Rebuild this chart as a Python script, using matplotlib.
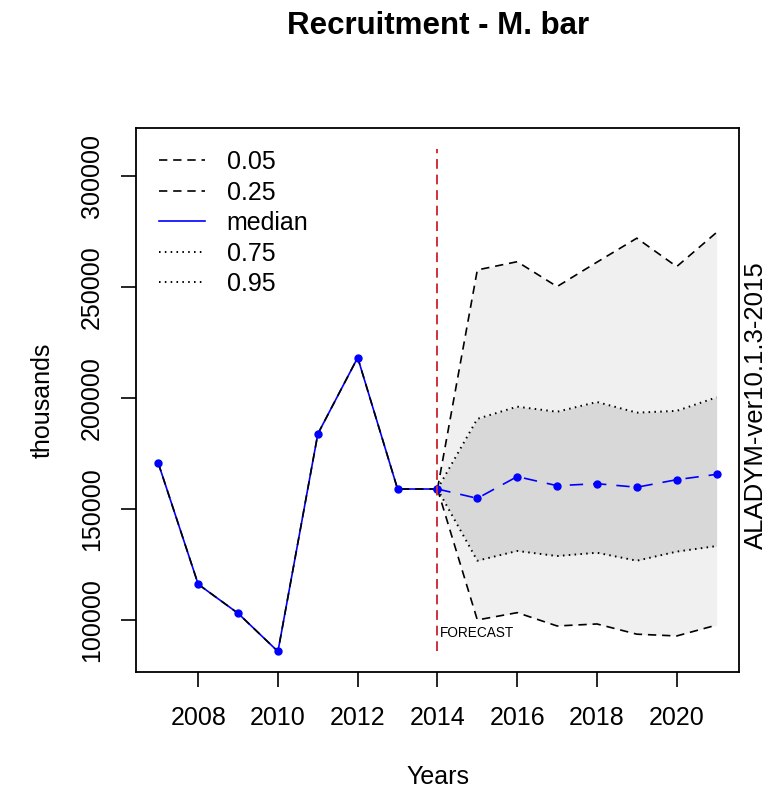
import matplotlib
matplotlib.use("Agg")
import matplotlib.pyplot as plt
import numpy as np

plt.rcParams['font.family'] = ['Liberation Sans', 'DejaVu Sans']

# Recruitment estimates (thousands) and projected quantiles
years = [2007, 2008, 2009, 2010, 2011, 2012, 2013, 2014,
         2015, 2016, 2017, 2018, 2019, 2020, 2021]
history_years = years[:8]
forecast_years = years[7:]

history = [170600, 116100, 103000, 85800, 183800, 218200, 159000, 159000]

q05 = [159000, 257700, 261400, 250200, 261200, 272000, 259200, 274600]
q25 = [159000, 100000, 103300, 97300, 98200, 93600, 92800, 97700]
median = [159000, 154800, 164600, 160500, 161400, 159800, 163200, 165600]
q75 = [159000, 190600, 196100, 193800, 198200, 193400, 194200, 200300]
q95 = [159000, 126700, 131100, 128800, 130300, 126700, 130800, 133300]

quantile_labels = ["0.05", "0.25", "median", "0.75", "0.95"]
xticks = [2008, 2010, 2012, 2014, 2016, 2018, 2020]
yticks = [100000, 150000, 200000, 250000, 300000]
forecast_start = 2014

fig = plt.figure(figsize=(7.67, 7.92), dpi=100)
ax = fig.add_axes([0.1773, 0.1519, 0.9639 - 0.1773, 0.838 - 0.1519])

ylo, yhi = 76700, 321500
ax.set_xlim(2006.44, 2021.57)
ax.set_ylim(ylo, yhi)

# uncertainty envelopes
ax.fill_between(forecast_years, q25, q05, color="#f0f0f0", lw=0, zorder=1)
ax.fill_between(forecast_years, q95, q75, color="#d8d8d8", lw=0, zorder=2)

dash = (0, (5, 3.5))
dot = (0, (0.8, 2.2))
hist_black = dict(color="black", lw=1.2, zorder=3)
ax.plot(history_years, history, color="blue", lw=1.2, zorder=3)
ax.plot(history_years, history, linestyle=dash, **hist_black)

l05, = ax.plot(forecast_years, q05, linestyle=dash, color="black", lw=1.2, zorder=3)
l25, = ax.plot(forecast_years, q25, linestyle=dash, color="black", lw=1.2, zorder=3)
l75, = ax.plot(forecast_years, q75, linestyle=dot, color="black", lw=1.4, zorder=3)
l95, = ax.plot(forecast_years, q95, linestyle=dot, color="black", lw=1.4, zorder=3)
ax.plot(forecast_years, median, linestyle=(0, (8, 6)), color="blue", lw=1.2, zorder=4)

ax.plot(history_years, history, "o", color="blue", ms=5, zorder=5)
ax.plot(forecast_years, median, "o", color="blue", ms=5, zorder=5)

# forecast boundary
ax.plot([forecast_start, forecast_start], [85800, 312400], color="#d1303a",
        lw=1.4, linestyle=(0, (5, 3)), zorder=6)
ax.text(forecast_start + 0.05, 94300, "FORECAST", fontsize=9.8,
        ha="left", va="center", zorder=7)

# legend
h_med, = ax.plot([], [], color="blue", lw=1.2)
leg = ax.legend([l05, l25, h_med, l75, l95], quantile_labels,
                loc="upper left", bbox_to_anchor=(-0.004, 1.006),
                frameon=False, fontsize=18, handlelength=1.85,
                handletextpad=0.87, labelspacing=0.26, borderaxespad=0.6)

ax.set_xticks(xticks)
ax.set_yticks(yticks)
ax.set_xticklabels([str(v) for v in xticks])
ax.set_yticklabels([str(v) for v in yticks], rotation=90, va="center")
ax.tick_params(axis="both", length=11, width=1.2, labelsize=18, direction="out")
ax.tick_params(axis="x", pad=14)
ax.tick_params(axis="y", pad=12)
for s in ax.spines.values():
    s.set_linewidth(1.3)

ax.set_xlabel("Years", fontsize=18, labelpad=25)
ax.set_ylabel("thousands", fontsize=18, labelpad=18)

fig.text(0.571, 0.967, "Recruitment - M. bar", fontsize=22.5, fontweight="bold",
         ha="center", va="center")
fig.text(0.986, 0.489, "ALADYM-ver10.1.3-2015", fontsize=18.5, rotation=90,
         ha="center", va="center")

fig.savefig("out.png", dpi=100)
